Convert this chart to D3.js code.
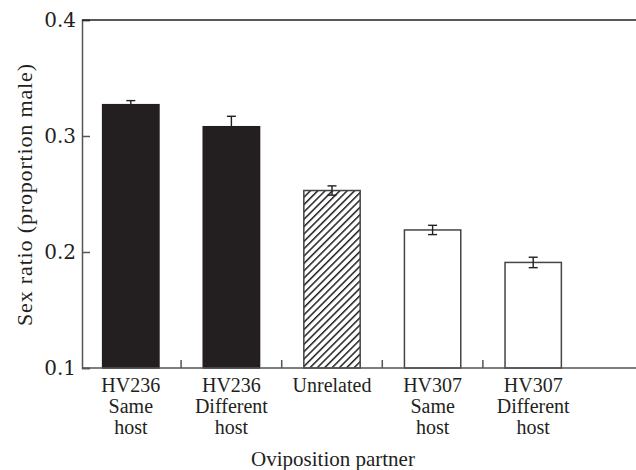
<!DOCTYPE html>
<html><head><meta charset="utf-8">
<script src="https://cdn.jsdelivr.net/npm/d3@7"></script>
<style>body{margin:0;background:#fff} text{font-family:"Liberation Serif","Times New Roman",serif;}</style>
</head><body>
<svg id="c" width="636" height="470"></svg>
<script>
const categories = ["HV236|Same|host","HV236|Different|host","Unrelated","HV307|Same|host","HV307|Different|host"];
const values = [0.327, 0.308, 0.253, 0.219, 0.191];
const errors = [0.0035, 0.009, 0.004, 0.004, 0.0045];
const fills = ["black","black","hatch","white","white"];
const yTicks = [0.1, 0.2, 0.3, 0.4];

const svg = d3.select("#c");
const mLeft = 82, mTop = 20, mBottom = 368, mRight = 636;
const y = d3.scaleLinear().domain([0.1, 0.4]).range([mBottom, mTop]);
const x = d3.scaleBand().domain(categories).range([80.5, 583.5]).paddingInner(0.44).paddingOuter(0.22);

const defs = svg.append("defs");
const pat = defs.append("pattern").attr("id","hatch").attr("patternUnits","userSpaceOnUse")
  .attr("width",5.2).attr("height",5.2).attr("patternTransform","rotate(45)");
pat.append("rect").attr("width",5.2).attr("height",5.2).attr("fill","#fff");
pat.append("rect").attr("x",0).attr("y",0).attr("width",1.5).attr("height",5.2).attr("fill","#231f20");

// bars
svg.append("g").selectAll("rect").data(categories).join("rect")
  .attr("x", d => x(d)).attr("width", x.bandwidth())
  .attr("y", (d,i) => y(values[i])).attr("height", (d,i) => mBottom - y(values[i]))
  .attr("fill", (d,i) => fills[i] === "black" ? "#231f20" : fills[i] === "hatch" ? "url(#hatch)" : "#fff")
  .attr("stroke", (d,i) => fills[i] === "black" ? "#231f20" : "#444")
  .attr("stroke-width", 1.5);

// error bars
const eg = svg.append("g").attr("stroke","#231f20").attr("stroke-width",1.4);
categories.forEach((c,i) => {
  const cx = x(c) + x.bandwidth()/2;
  const y1 = y(values[i] + errors[i]), y0 = y(values[i] - errors[i]);
  eg.append("line").attr("x1",cx).attr("x2",cx).attr("y1",y1).attr("y2",y0);
  eg.append("line").attr("x1",cx-4.5).attr("x2",cx+4.5).attr("y1",y1).attr("y2",y1);
  eg.append("line").attr("x1",cx-4.5).attr("x2",cx+4.5).attr("y1",y0).attr("y2",y0);
});

// y axis
const ya = svg.append("g").attr("transform",`translate(${mLeft},0)`)
  .call(d3.axisLeft(y).tickValues(yTicks).tickFormat(d3.format(".1f")).tickSize(-8).tickPadding(6));
ya.select(".domain").attr("stroke","#555").attr("stroke-width",1.5);
ya.selectAll(".tick line").attr("stroke","#555").attr("stroke-width",1.5);
ya.selectAll(".tick text").style("font-family","'DejaVu Serif','Liberation Serif',serif").attr("font-size",20).attr("fill","#231f20");

// top frame line
svg.append("line").attr("x1",mLeft).attr("x2",mRight).attr("y1",mTop).attr("y2",mTop)
  .attr("stroke","#231f20").attr("stroke-width",1.5);
// bottom axis line
svg.append("line").attr("x1",mLeft).attr("x2",mRight).attr("y1",mBottom).attr("y2",mBottom)
  .attr("stroke","#555").attr("stroke-width",1.5);
// bottom ticks between categories
svg.append("g").selectAll("line").data(categories.slice(0,-1)).join("line")
  .attr("x1", d => x(d) + x.bandwidth()/2 + x.step()/2)
  .attr("x2", d => x(d) + x.bandwidth()/2 + x.step()/2)
  .attr("y1", mBottom).attr("y2", mBottom - 8)
  .attr("stroke","#555").attr("stroke-width",1.5);

// category labels
const lab = svg.append("g").attr("font-size",20)
  .attr("fill","#231f20").attr("text-anchor","middle");
categories.forEach(c => {
  const t = lab.append("text").attr("x", x(c) + x.bandwidth()/2).attr("y", 392);
  c.split("|").forEach((s,j) => t.append("tspan").attr("x", x(c) + x.bandwidth()/2).attr("dy", j ? 21 : 0).text(s));
});

// axis titles
svg.append("text").attr("x", 333).attr("y", 466).attr("text-anchor","middle")
  .attr("font-size",21).attr("fill","#231f20")
  .text("Oviposition partner");
svg.append("text").attr("transform","translate(32,195) rotate(-90)").attr("text-anchor","middle")
  .attr("font-size",22).attr("fill","#231f20")
  .attr("textLength",262).attr("lengthAdjust","spacing")
  .text("Sex ratio (proportion male)");
</script>
</body></html>
